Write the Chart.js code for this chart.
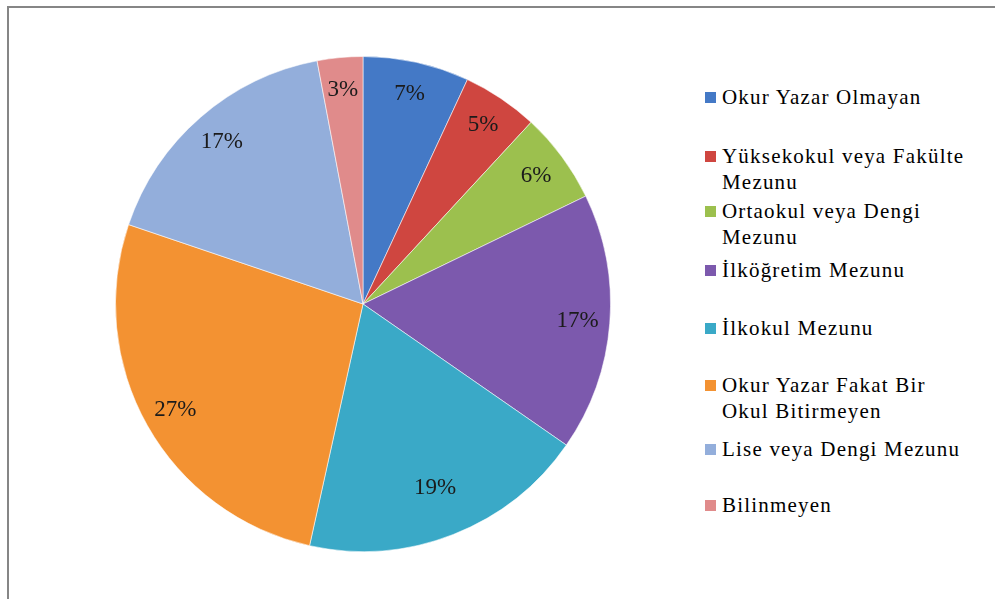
<!DOCTYPE html>
<html>
<head>
<meta charset="utf-8">
<script src="https://cdn.jsdelivr.net/npm/chart.js@4"></script>
<style>
  body { margin: 0; background: #fff; width: 995px; height: 599px; overflow: hidden; position: relative; }
  #frame { position: absolute; left: 7px; top: 6px; width: 1000px; height: 620px; border-top: 2px solid #868686; border-left: 2px solid #868686; }
  #wrap { position: absolute; left: 113px; top: 54px; width: 500px; height: 500px; }
  #legend { position: absolute; left: 705px; top: 0; }
  .item { position: absolute; left: 0; width: 285px; line-height: 26px; padding-left: 17px; white-space: nowrap;
          font-family: 'Liberation Serif', 'Times New Roman', serif; font-size: 21px; letter-spacing: 1.2px; color: #000; }
  .box { position: absolute; left: 0; top: 8px; width: 11px; height: 11px; }
</style>
</head>
<body>
<div id="frame"></div>
<div id="wrap"><canvas id="pie"></canvas></div>
<div id="legend"></div>
<script>
document.addEventListener('DOMContentLoaded', () => {
    // categories and values, clockwise from 12 o'clock
    const categories = [
        ['Okur Yazar Olmayan'],
        ['Yüksekokul veya Fakülte', 'Mezunu'],
        ['Ortaokul veya Dengi', 'Mezunu'],
        ['İlköğretim Mezunu'],
        ['İlkokul Mezunu'],
        ['Okur Yazar Fakat Bir', 'Okul Bitirmeyen'],
        ['Lise veya Dengi Mezunu'],
        ['Bilinmeyen']
    ];
    const percents = [7, 5, 6, 17, 19, 27, 17, 3];
    const colors = ['#4479c6', '#cf4640', '#9cc04e', '#7c59ad', '#3aa9c7', '#f39232', '#93aedb', '#e08b8b'];
    const legendTops = [84, 143, 198, 257, 315, 372, 436, 492];

    // percentage labels inside slices
    const sliceLabels = {
        id: 'sliceLabels',
        afterDatasetsDraw(chart) {
            const ctx = chart.ctx;
            const meta = chart.getDatasetMeta(0);
            ctx.save();
            ctx.font = '23px "Liberation Serif", "Times New Roman", serif';
            ctx.fillStyle = '#1b1b1b';
            ctx.textAlign = 'center';
            ctx.textBaseline = 'middle';
            meta.data.forEach((arc, i) => {
                const p = arc.getProps(['x', 'y', 'startAngle', 'endAngle', 'outerRadius'], true);
                const mid = (p.startAngle + p.endAngle) / 2;
                const r = p.outerRadius * (i === 4 ? 0.8 : 0.87);
                ctx.fillText(percents[i] + '%', p.x + Math.cos(mid) * r, p.y + Math.sin(mid) * r);
            });
            ctx.restore();
        }
    };

    // soft bevel: lighter rim, base colour inside
    const shade = (hex, amt) => {
        const n = parseInt(hex.slice(1), 16);
        const c = [n >> 16, (n >> 8) & 255, n & 255].map(v => Math.round(amt > 0 ? v + (255 - v) * amt : v * (1 + amt)));
        return `rgb(${c[0]},${c[1]},${c[2]})`;
    };
    const fill = (context) => {
        const chart = context.chart;
        const arc = context.element;
        const base = colors[context.dataIndex];
        if (!arc || !chart.chartArea) return base;
        const p = arc.getProps(['x', 'y', 'outerRadius'], true);
        if (!p.outerRadius) return base;
        const g = chart.ctx.createRadialGradient(p.x, p.y, 0, p.x, p.y, p.outerRadius);
        g.addColorStop(0, base);
        g.addColorStop(0.93, base);
        g.addColorStop(0.97, shade(base, 0.12));
        g.addColorStop(1, shade(base, -0.08));
        return g;
    };

    new Chart(document.getElementById('pie'), {
        type: 'pie',
        data: {
            labels: categories.map(c => c.join(' ')),
            datasets: [{
                data: percents,
                backgroundColor: fill,
                borderColor: 'rgba(255,255,255,0.55)',
                borderWidth: 1
            }]
        },
        options: {
            responsive: true,
            maintainAspectRatio: false,
            animation: false,
            layout: { padding: 2 },
            plugins: {
                legend: { display: false },
                tooltip: { enabled: false }
            }
        },
        plugins: [sliceLabels]
    });

    // legend on the right
    const legendEl = document.getElementById('legend');
    categories.forEach((lines, i) => {
        const item = document.createElement('div');
        item.className = 'item';
        item.style.top = legendTops[i] + 'px';
        item.innerHTML = `<span class="box" style="background:${colors[i]}"></span>` + lines.join('<br>');
        legendEl.appendChild(item);
    });
});
</script>
</body>
</html>
